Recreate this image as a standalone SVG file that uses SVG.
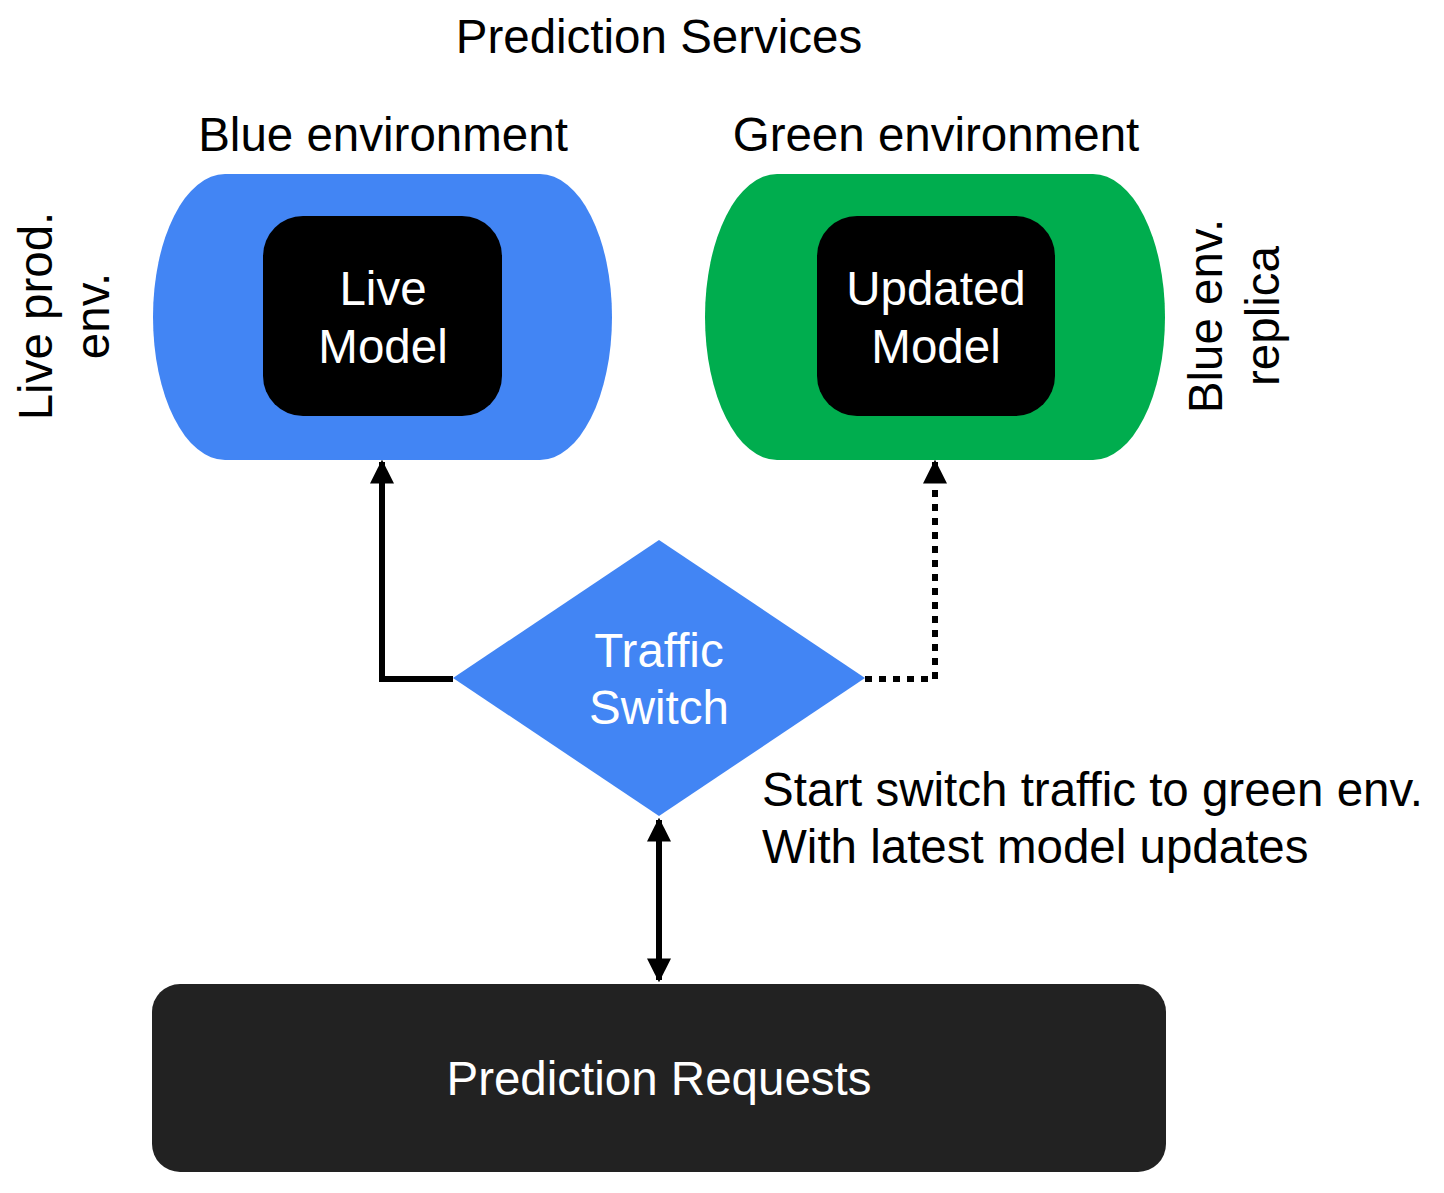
<svg xmlns="http://www.w3.org/2000/svg" width="1444" height="1193" viewBox="0 0 1444 1193">
<style>
text{font-family:"Liberation Sans",Arial,sans-serif;font-size:47.5px;fill:#000}
.w{fill:#fff;text-anchor:middle}
.c{text-anchor:middle}
.ln{fill:none;stroke:#000;stroke-width:6}
</style>
<defs>
<marker id="ah" viewBox="0 0 10 10" refX="9" refY="5" markerWidth="4" markerHeight="4" orient="auto-start-reverse"><path d="M0,0L10,5L0,10Z" fill="#000"/></marker>
</defs>
<rect width="1444" height="1193" fill="#fff"/>
<text x="659" y="53" class="c">Prediction Services</text>
<g id="blue">
<text x="383" y="151" class="c">Blue environment</text>
<path d="M225,174H540A72,143 0 0 1 540,460H225A72,143 0 0 1 225,174Z" fill="#4285f4"/>
<rect x="263" y="216" width="239" height="200" rx="40" fill="#000"/>
<text x="383" y="305" class="w">Live</text>
<text x="383" y="363" class="w">Model</text>
<text transform="translate(52,316) rotate(-90)" class="c">Live prod.</text>
<text transform="translate(109,316) rotate(-90)" class="c">env.</text>
</g>
<g id="green">
<text x="936" y="151" class="c">Green environment</text>
<path d="M777,174H1093A72,143 0 0 1 1093,460H777A72,143 0 0 1 777,174Z" fill="#00ad4e"/>
<rect x="817" y="216" width="238" height="200" rx="40" fill="#000"/>
<text x="936" y="305" class="w">Updated</text>
<text x="936" y="363" class="w">Model</text>
<text transform="translate(1222,316) rotate(-90)" class="c">Blue env.</text>
<text transform="translate(1279,316) rotate(-90)" class="c">replica</text>
</g>
<g id="switch">
<path d="M659,540L865,678L659,816L453,678Z" fill="#4285f4"/>
<text x="659" y="667" class="w">Traffic</text>
<text x="659" y="724" class="w">Switch</text>
</g>
<text x="762" y="806">Start switch traffic to green env.</text>
<text x="762" y="863">With latest model updates</text>
<g id="requests">
<rect x="152" y="984" width="1014" height="188" rx="28" fill="#222"/>
<text x="659" y="1095" class="w">Prediction Requests</text>
</g>
<g id="connectors">
<path class="ln" d="M453,679H382V462" marker-end="url(#ah)"/>
<path class="ln" d="M865,679H935V462" stroke-dasharray="7,7" marker-end="url(#ah)"/>
<path class="ln" d="M659,820V980" marker-start="url(#ah)" marker-end="url(#ah)"/>
</g>
</svg>
